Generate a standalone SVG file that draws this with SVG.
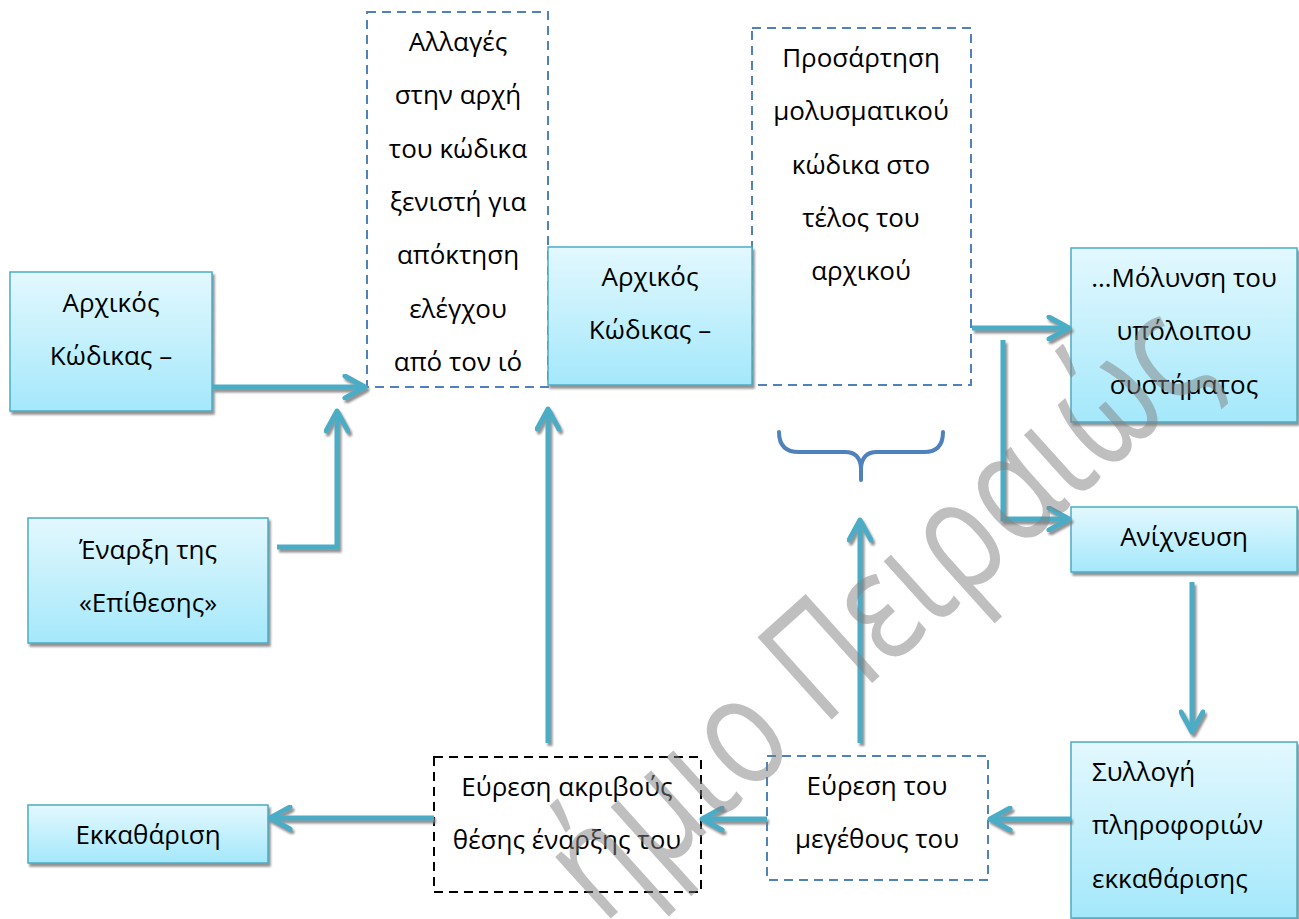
<svg xmlns="http://www.w3.org/2000/svg" width="1299" height="919" viewBox="0 0 1299 919">
<defs>
<linearGradient id="g" x1="0" y1="0" x2="0" y2="1">
<stop offset="0" stop-color="#e3f8fe"/>
<stop offset="1" stop-color="#a4e8fb"/>
</linearGradient>
<filter id="sh" x="-10%" y="-10%" width="130%" height="130%">
<feDropShadow dx="2" dy="3" stdDeviation="0.8" flood-color="#7f7f7f" flood-opacity="0.85"/>
</filter>
<marker id="ah" viewBox="0 0 26 26" refX="23" refY="13" markerWidth="26" markerHeight="26" markerUnits="userSpaceOnUse" orient="auto">
<path d="M3,2 L23,13 L3,24" fill="none" stroke="#4bacc6" stroke-width="5" stroke-linecap="round" stroke-linejoin="round"/>
</marker>
<style>
.box{fill:url(#g);stroke:#4bacc6;stroke-width:1.5;filter:url(#sh)}
.dash{fill:none;stroke:#4f81bd;stroke-width:2;stroke-dasharray:9 6}
.dashk{fill:none;stroke:#000;stroke-width:2;stroke-dasharray:9 6}
.t{font-family:"Open Sans","Noto Sans",sans-serif;font-size:26px;fill:#000;text-anchor:middle}
.tl{text-anchor:start}
.c{fill:none;stroke:#4bacc6;stroke-width:5;marker-end:url(#ah)}
.brace{fill:none;stroke:#4f81bd;stroke-width:4;stroke-linecap:round;stroke-linejoin:round}
.wm{font-family:"Open Sans","Noto Sans",sans-serif;font-size:155px;fill:#808080;fill-opacity:0.5}
</style>
</defs>
<rect width="1299" height="919" fill="#fff"/>

<g id="n-dashed1">
<rect class="dash" x="367" y="12" width="181" height="375"/>
<text class="t" x="458" y="51">Αλλαγές</text>
<text class="t" x="458" y="104">στην αρχή</text>
<text class="t" x="458" y="158">του κώδικα</text>
<text class="t" x="458" y="211">ξενιστή για</text>
<text class="t" x="458" y="264">απόκτηση</text>
<text class="t" x="458" y="318">ελέγχου</text>
<text class="t" x="458" y="371">από τον ιό</text>
</g>

<g id="n-dashed2">
<rect class="dash" x="752" y="28" width="219" height="357"/>
<text class="t" x="861" y="67">Προσάρτηση</text>
<text class="t" x="861" y="120">μολυσματικού</text>
<text class="t" x="861" y="174">κώδικα στο</text>
<text class="t" x="861" y="227">τέλος του</text>
<text class="t" x="861" y="280">αρχικού</text>
</g>

<g id="n-orig-left">
<rect class="box" x="10" y="272" width="202" height="139"/>
<text class="t" x="111" y="312">Αρχικός</text>
<text class="t" x="111" y="365">Κώδικας –</text>
</g>

<g id="n-start">
<rect class="box" x="28" y="518" width="240" height="125"/>
<text class="t" x="148" y="559">Έναρξη της</text>
<text class="t" x="148" y="612">«Επίθεσης»</text>
</g>

<g id="n-clean">
<rect class="box" x="28" y="805" width="240" height="58"/>
<text class="t" x="148" y="844">Εκκαθάριση</text>
</g>

<g id="n-orig-mid">
<rect class="box" x="548" y="247" width="204" height="138"/>
<text class="t" x="650" y="286">Αρχικός</text>
<text class="t" x="650" y="339">Κώδικας –</text>
</g>

<g id="n-infect">
<rect class="box" x="1071" y="248" width="226" height="174"/>
<text class="t" x="1184" y="287">…Μόλυνση του</text>
<text class="t" x="1184" y="340">υπόλοιπου</text>
<text class="t" x="1184" y="394">συστήματος</text>
</g>

<g id="n-detect">
<rect class="box" x="1071" y="507" width="226" height="65"/>
<text class="t" x="1184" y="546">Ανίχνευση</text>
</g>

<g id="n-collect">
<rect class="box" x="1071" y="742" width="226" height="176"/>
<text class="t tl" x="1092" y="781">Συλλογή</text>
<text class="t tl" x="1092" y="834">πληροφοριών</text>
<text class="t tl" x="1092" y="888">εκκαθάρισης</text>
</g>

<g id="n-size">
<rect class="dash" x="767" y="756" width="221" height="124"/>
<text class="t" x="877" y="795">Εύρεση του</text>
<text class="t" x="877" y="848">μεγέθους του</text>
</g>

<g id="n-pos">
<rect class="dashk" x="434" y="757" width="267" height="135"/>
<text class="t" x="567" y="796">Εύρεση ακριβούς</text>
<text class="t" x="567" y="849">θέσης έναρξης του</text>
</g>

<g id="n-brace">
<path class="brace" d="M779,432 Q779,452 799,452 L845,452 Q860,452 861,468 L861,480 M861,468 Q862,452 877,452 L924,452 Q943,452 943,432"/>
</g>

<g id="connectors" filter="url(#sh)">
<path class="c" d="M212,387 L365,387"/>
<path class="c" d="M277,547 L337,547 L337,411"/>
<path class="c" d="M548,743 L548,409"/>
<path class="c" d="M972,328 L1069,328"/>
<path class="c" d="M1003,340 L1003,519 L1069,519"/>
<path class="c" d="M1192,582 L1192,732"/>
<path class="c" d="M1071,819 L990,819"/>
<path class="c" d="M767,819 L702,819"/>
<path class="c" d="M434,818 L270,818"/>
<path class="c" d="M860,743 L860,520"/>
</g>

<g id="watermark">
<text class="wm" transform="translate(748,795) rotate(-42)" x="-195" y="0" textLength="825" lengthAdjust="spacingAndGlyphs">ήμιο Πειραιώς</text>
</g>
</svg>
